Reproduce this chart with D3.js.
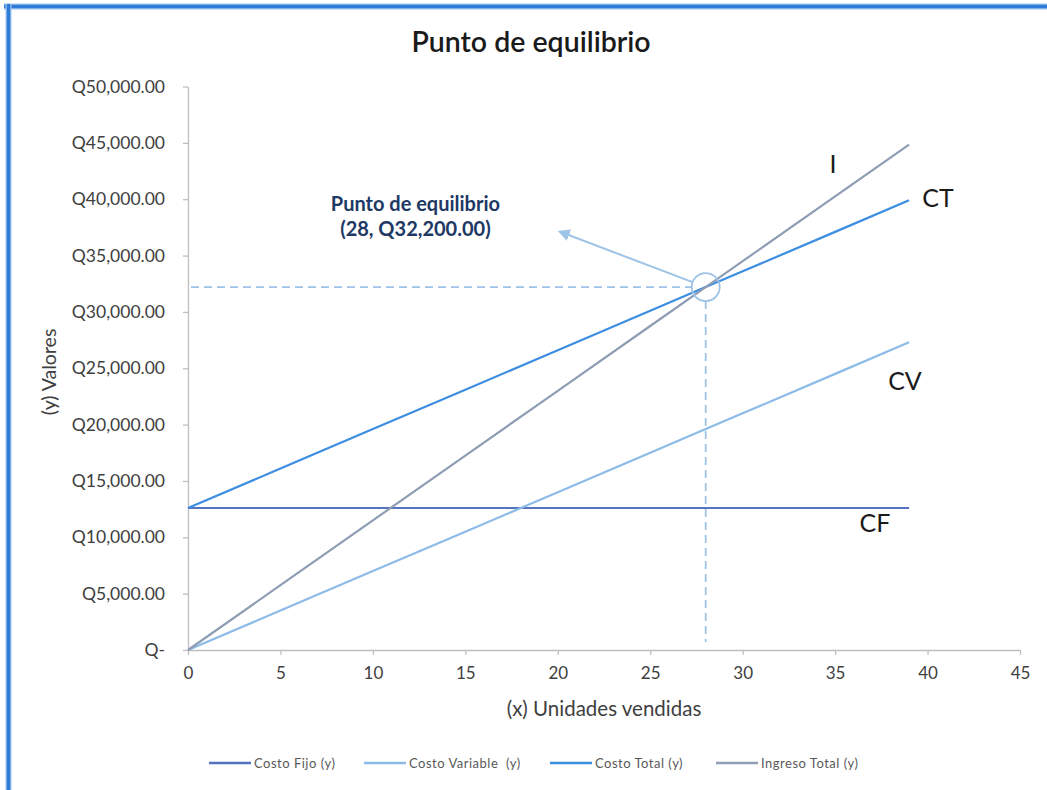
<!DOCTYPE html>
<html>
<head>
<meta charset="utf-8">
<script src="https://cdn.jsdelivr.net/npm/d3@7/dist/d3.min.js"></script>
<style>
  html, body { margin: 0; padding: 0; background: #fff; }
  svg { display: block; font-family: Lato, "Open Sans", "Noto Sans", sans-serif; }
</style>
</head>
<body>
<svg id="chart" width="1047" height="790"></svg>
<script>
// Units sold (x) at which each series is sampled
const units        = [0, 5, 10, 15, 20, 25, 28, 30, 35, 39];
// Cost and revenue series (quetzales)
const costoFijo     = [12600, 12600, 12600, 12600, 12600, 12600, 12600, 12600, 12600, 12600];
const costoVariable = [0, 3500, 7000, 10500, 14000, 17500, 19600, 21000, 24500, 27300];
const costoTotal    = [12600, 16100, 19600, 23100, 26600, 30100, 32200, 33600, 37100, 39900];
const ingresoTotal  = [0, 5750, 11500, 17250, 23000, 28750, 32200, 34500, 40250, 44850];

// Break-even point
const equilibrio = { x: 28, y: 32200 };

// Axis ticks
const xTicks = [0, 5, 10, 15, 20, 25, 30, 35, 40, 45];
const yTicks = [0, 5000, 10000, 15000, 20000, 25000, 30000, 35000, 40000, 45000, 50000];

const series = [
  { name: "Costo Fijo (y)",      short: "CF", values: costoFijo,     color: "#5574c0" },
  { name: "Costo Variable  (y)", short: "CV", values: costoVariable, color: "#8dbbe8" },
  { name: "Costo Total (y)",     short: "CT", values: costoTotal,    color: "#3d8ee0" },
  { name: "Ingreso Total (y)",   short: "I",  values: ingresoTotal,  color: "#8e9db3" }
];

const svg = d3.select("#chart");

// Outer frame (top and left edges)
const frame = svg.append("g");
frame.append("line").attr("x1", 4).attr("x2", 1047).attr("y1", 6.5).attr("y2", 6.5)
  .attr("stroke", "#9cc3ee").attr("stroke-width", 6);
frame.append("line").attr("x1", 4).attr("x2", 1047).attr("y1", 6.5).attr("y2", 6.5)
  .attr("stroke", "#2f7bd7").attr("stroke-width", 3.5);
frame.append("line").attr("x1", 8.5).attr("x2", 8.5).attr("y1", 4).attr("y2", 790)
  .attr("stroke", "#9cc3ee").attr("stroke-width", 6);
frame.append("line").attr("x1", 8.5).attr("x2", 8.5).attr("y1", 4).attr("y2", 790)
  .attr("stroke", "#2f7bd7").attr("stroke-width", 3.5);

const x = d3.scaleLinear().domain([0, 45]).range([188, 1020]);
const y = d3.scaleLinear().domain([0, 50000]).range([650, 86.5]);

// Title
svg.append("text")
  .attr("x", 531).attr("y", 52)
  .attr("text-anchor", "middle")
  .attr("font-size", 28.5)
  .attr("font-weight", 600)
  .attr("fill", "#1a1a1a")
  .text("Punto de equilibrio");

// Axes
const fmtQ = v => v === 0 ? "Q-" : "Q" + d3.format(",.2f")(v);

const yAxis = svg.append("g")
  .attr("transform", `translate(${x(0)},0)`)
  .call(d3.axisLeft(y).tickValues(yTicks).tickFormat(fmtQ).tickSize(5).tickSizeOuter(0).tickPadding(18));

const xAxis = svg.append("g")
  .attr("transform", `translate(0,${y(0)})`)
  .call(d3.axisBottom(x).tickValues(xTicks).tickSize(5).tickSizeOuter(0).tickPadding(12));

[yAxis, xAxis].forEach(a => {
  a.select(".domain").attr("stroke", "#bfbfbf").attr("stroke-width", 1.3);
  a.selectAll(".tick line").attr("stroke", "#bfbfbf").attr("stroke-width", 1.3);
  a.selectAll(".tick text").attr("fill", "#404040").attr("font-family", "Lato, sans-serif");
});
yAxis.selectAll(".tick text").attr("font-size", 17.5);
xAxis.selectAll(".tick text").attr("font-size", 17);

// Axis titles
svg.append("text")
  .attr("x", 604).attr("y", 716)
  .attr("text-anchor", "middle")
  .attr("font-size", 20.5)
  .attr("fill", "#404040")
  .text("(x) Unidades vendidas");

svg.append("text")
  .attr("transform", `translate(56,372) rotate(-90)`)
  .attr("text-anchor", "middle")
  .attr("font-size", 19.5)
  .attr("fill", "#404040")
  .text("(y) Valores");

// Break-even guides
const r = 14;
const px = x(equilibrio.x), py = y(equilibrio.y);
const guides = svg.append("g")
  .attr("stroke", "#9dc3e6").attr("stroke-width", 1.8).attr("stroke-dasharray", "8,5").attr("fill", "none");
guides.append("line").attr("x1", x(0) + 3).attr("x2", px - r).attr("y1", py).attr("y2", py);
guides.append("line").attr("x1", px).attr("x2", px).attr("y1", py + r).attr("y2", y(0) - 8);

// Series lines
const line = d3.line().x((d, i) => x(units[i])).y(d => y(d));
svg.append("g").selectAll("path")
  .data(series)
  .join("path")
  .attr("d", d => line(d.values))
  .attr("fill", "none")
  .attr("stroke", d => d.color)
  .attr("stroke-width", 2.2);

// Circle marking the break-even point
svg.append("circle")
  .attr("cx", px).attr("cy", py).attr("r", r)
  .attr("fill", "none").attr("stroke", "#9dc3e6").attr("stroke-width", 1.8);

// Arrow from the point to its annotation
svg.append("defs").append("marker")
  .attr("id", "arrowhead")
  .attr("viewBox", "0 0 10 10").attr("refX", 5).attr("refY", 5)
  .attr("markerWidth", 6).attr("markerHeight", 6)
  .attr("orient", "auto-start-reverse")
  .append("path").attr("d", "M0,0 L10,5 L0,10 z").attr("fill", "#9dc3e6");

const arrowEnd = { x: x(20.3), y: y(37000) };
const ang = Math.atan2(arrowEnd.y - py, arrowEnd.x - px);
svg.append("line")
  .attr("x1", px + r * Math.cos(ang)).attr("y1", py + r * Math.sin(ang))
  .attr("x2", arrowEnd.x).attr("y2", arrowEnd.y)
  .attr("stroke", "#9dc3e6").attr("stroke-width", 2)
  .attr("marker-end", "url(#arrowhead)");

// Annotation text
const ann = svg.append("text")
  .attr("text-anchor", "middle")
  .attr("font-size", 20)
  .attr("font-weight", "bold")
  .attr("fill", "#203864");
ann.append("tspan").attr("x", x(12.3)).attr("y", 211).text("Punto de equilibrio");
ann.append("tspan").attr("x", x(12.3)).attr("y", 236)
  .text(`(${equilibrio.x}, ${fmtQ(equilibrio.y)})`);

// Line end labels
const endLabels = [
  { text: "I",  x: 833, y: 173 },
  { text: "CT", x: 938, y: 207 },
  { text: "CV", x: 905, y: 390 },
  { text: "CF", x: 875, y: 532 }
];
svg.append("g").selectAll("text")
  .data(endLabels)
  .join("text")
  .attr("x", d => d.x).attr("y", d => d.y)
  .attr("text-anchor", "middle")
  .attr("font-size", 25)
  .attr("fill", "#1a1a1a")
  .text(d => d.text);

// Legend
const legendX = [209, 364, 550, 716];
const legend = svg.append("g").selectAll("g")
  .data(series)
  .join("g")
  .attr("transform", (d, i) => `translate(${legendX[i]},763)`);
legend.append("line")
  .attr("x1", 0).attr("x2", 42).attr("y1", 0).attr("y2", 0)
  .attr("stroke", d => d.color).attr("stroke-width", 2.5);
legend.append("text")
  .attr("x", 45).attr("y", 4.5)
  .attr("font-size", 13)
  .attr("letter-spacing", 0.5)
  .style("white-space", "pre")
  .attr("fill", "#595959")
  .text(d => d.name);
</script>
</body>
</html>
